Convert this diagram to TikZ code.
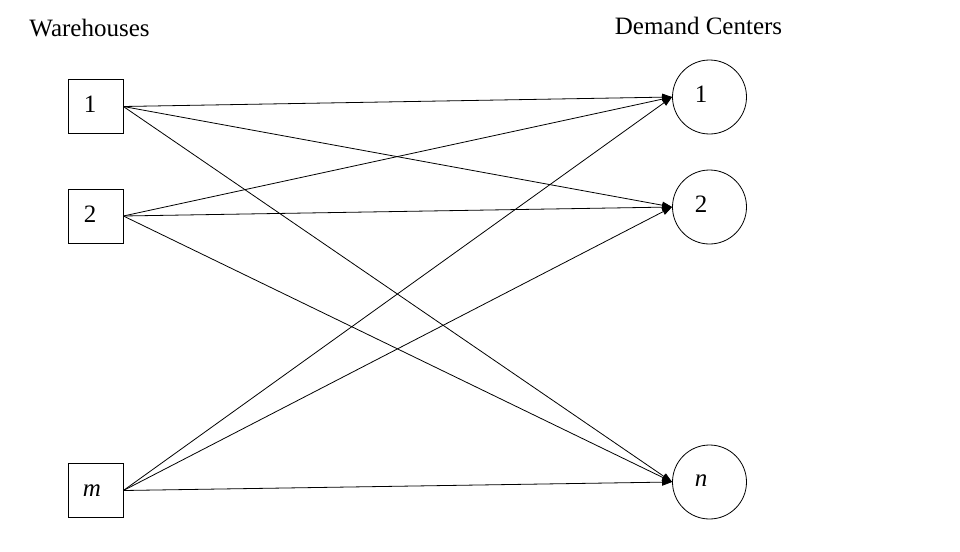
\documentclass[tikz,border=0pt]{standalone}
\usepackage{fontspec}
\setmainfont{Liberation Serif}
\usetikzlibrary{arrows.meta}
\begin{document}
\begin{tikzpicture}[x=1pt,y=-1pt,
  wbox/.style={draw,line width=0.8pt,minimum width=55pt,minimum height=54pt,inner sep=0pt},
  dcirc/.style={draw,line width=0.8pt,circle,minimum size=74pt,inner sep=0pt},
  lbl/.style={anchor=base,inner sep=0pt,font=\fontsize{25}{28}\selectfont},
  flow/.style={line width=0.8pt,-{Triangle[length=10pt,width=7pt]}}]
\useasboundingbox (0,0) rectangle (960,551);
\node[wbox] (w1) at (95.5,106.5) {};
\node[wbox] (w2) at (95.5,216) {};
\node[wbox] (wm) at (95.5,490.5) {};
\node[dcirc] (d1) at (709.5,97) {};
\node[dcirc] (d2) at (709.5,207) {};
\node[dcirc] (dn) at (709.5,482) {};
\node[lbl] (tw) at (89.5,37) {Warehouses};
\node[lbl] (td) at (698.5,35) {Demand Centers};
\node[lbl] (l1) at (90,112) {1};
\node[lbl] (l2) at (90,222) {2};
\node[lbl] (lm) at (92,496) {\itshape m};
\node[lbl] (k1) at (701,102) {1};
\node[lbl] (k2) at (701,212) {2};
\node[lbl] (kn) at (701,486) {\itshape n};
\foreach \s in {w1,w2,wm}{
  \foreach \t in {d1,d2,dn}{
    \draw[flow] (\s.east) -- (\t.west);
  }
}
\end{tikzpicture}
\end{document}
